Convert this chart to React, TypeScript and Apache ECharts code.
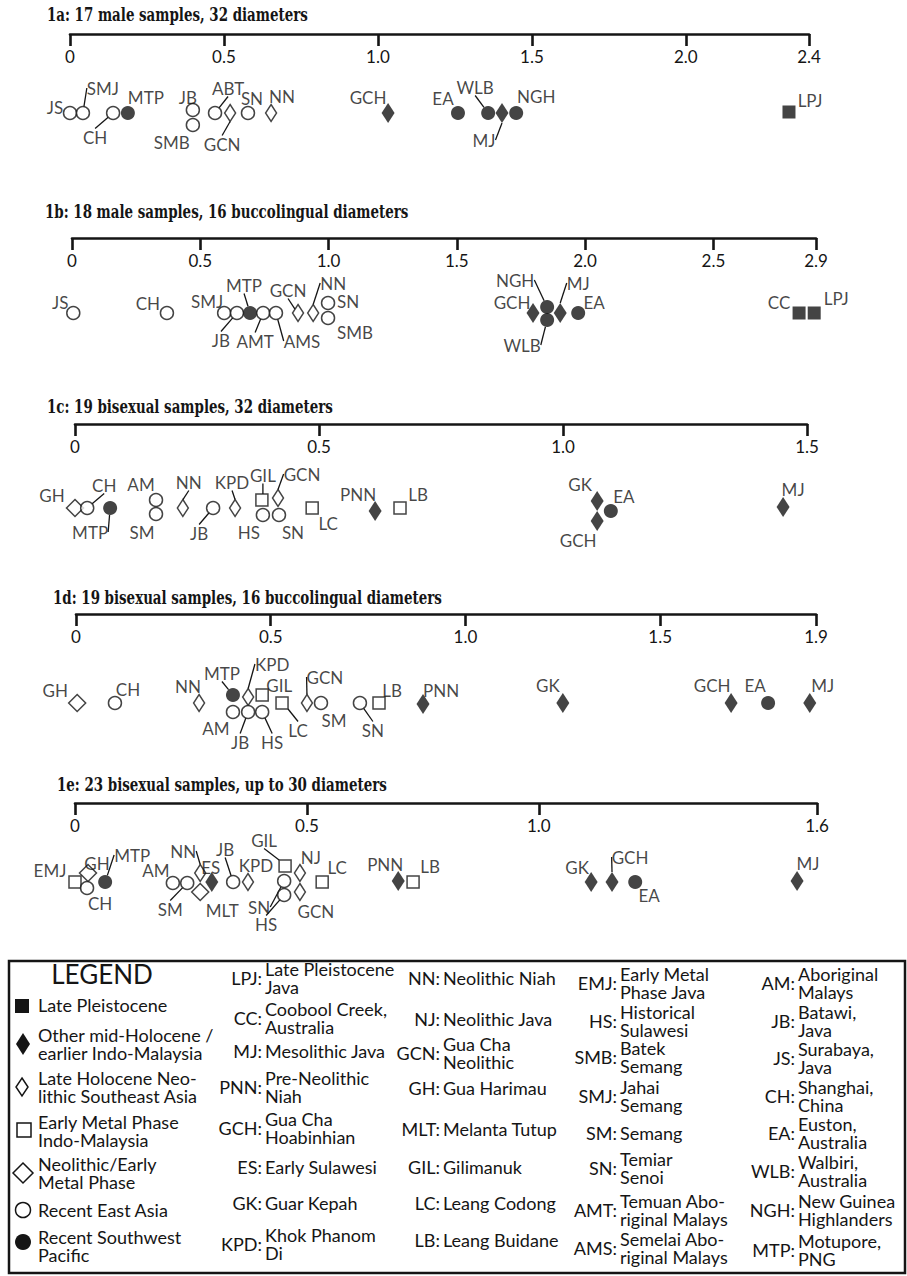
import React, { useEffect, useRef } from 'react';
import * as echarts from 'echarts';

// ---------- Panel titles & axes ----------
const titles = [
  '1a: 17 male samples, 32 diameters',
  '1b: 18 male samples, 16 buccolingual diameters',
  '1c: 19 bisexual samples, 32 diameters',
  '1d: 19 bisexual samples, 16 buccolingual diameters',
  '1e: 23 bisexual samples, up to 30 diameters',
];
const axisMax = [2.4, 2.9, 1.5, 1.9, 1.6];
const tickValues = [
  [0, 0.5, 1.0, 1.5, 2.0, 2.4],
  [0, 0.5, 1.0, 1.5, 2.0, 2.5, 2.9],
  [0, 0.5, 1.0, 1.5],
  [0, 0.5, 1.0, 1.5, 1.9],
  [0, 0.5, 1.0, 1.6],
];

// ---------- Panel 1a ----------
const codes1a = ['JS', 'SMJ', 'CH', 'MTP', 'JB', 'SMB', 'ABT', 'GCN', 'SN', 'NN', 'GCH', 'EA', 'WLB', 'MJ', 'NGH', 'LPJ'];
const values1a = [0.0, 0.042, 0.14, 0.188, 0.399, 0.399, 0.471, 0.52, 0.578, 0.653, 1.033, 1.26, 1.358, 1.403, 1.449, 2.335];
const groups1a = ['REA', 'REA', 'REA', 'RSP', 'REA', 'REA', 'REA', 'LHN', 'REA', 'LHN', 'MH', 'RSP', 'RSP', 'MH', 'RSP', 'LP'];
const stack1a = [0, 0, 0, 0, -3, 12, 0, 0, 0, 0, 0, 0, 0, 0, 0, -1];
const labelAt1a = [[-15, -6], [20, -25], [-18, 24], [18, -16], [-5, -13], [-21, 17], [13, -25], [-8, 31], [4, -15], [11, -17], [-20, -16], [-15, -15], [-13, -26], [-18, 27], [20, -17], [21, -12]];
const leaders1a = ['SMJ', 'CH', 'ABT', 'GCN', 'WLB', 'MJ'];

// ---------- Panel 1b ----------
const codes1b = ['JS', 'CH', 'SMJ', 'JB', 'MTP', 'AMT', 'AMS', 'GCN', 'NN', 'SN', 'SMB', 'GCH', 'NGH', 'WLB', 'MJ', 'EA', 'CC', 'LPJ'];
const values1b = [0.005, 0.37, 0.593, 0.643, 0.694, 0.745, 0.795, 0.881, 0.94, 0.998, 0.998, 1.797, 1.852, 1.852, 1.903, 1.973, 2.834, 2.893];
const groups1b = ['REA', 'REA', 'REA', 'REA', 'RSP', 'REA', 'REA', 'LHN', 'LHN', 'REA', 'REA', 'MH', 'RSP', 'RSP', 'MH', 'RSP', 'LP', 'LP'];
const stack1b = [0, 0, 0, 0, 0, 0, 0, 0, 0, -10, 5, 0, -6, 7, 0, 0, 0, 0];
const labelAt1b = [[-13, -11], [-19, -10], [-17, -12], [-16, 27], [-6, -28], [-8, 28], [26, 28], [-10, -23], [20, -30], [20, -2], [27, 14], [-21, -11], [-32, -27], [-25, 25], [18, -30], [16, -11], [-20, -11], [22, -15]];
const leaders1b = ['JB', 'MTP', 'AMT', 'AMS', 'GCN', 'NN', 'NGH', 'WLB', 'MJ'];

// ---------- Panel 1c ----------
const codes1c = ['GH', 'CH', 'MTP', 'AM', 'SM', 'NN', 'JB', 'KPD', 'GIL', 'HS', 'GCN', 'SN', 'LC', 'PNN', 'LB', 'GK', 'GCH', 'EA', 'MJ'];
const values1c = [0.0, 0.025, 0.072, 0.166, 0.166, 0.221, 0.283, 0.328, 0.383, 0.385, 0.416, 0.418, 0.486, 0.615, 0.666, 1.07, 1.07, 1.098, 1.451];
const groups1c = ['NEM', 'REA', 'RSP', 'REA', 'REA', 'LHN', 'REA', 'LHN', 'EMP', 'REA', 'LHN', 'REA', 'EMP', 'MH', 'EMP', 'MH', 'MH', 'RSP', 'MH'];
const stack1c = [0, 0, 0, -8, 6, 0, 0, 0, -8, 7, -10, 7, 0, 3, 0, -7, 13, 3, -1];
const labelAt1c = [[-23, -13], [17, -23], [-20, 24], [-15, -16], [-14, 18], [6, -26], [-14, 25], [-3, -26], [1, -25], [-14, 17], [24, -24], [14, 17], [16, 15], [-17, -17], [18, -14], [-17, -17], [-19, 19], [13, -15], [10, -18]];
const leaders1c = ['CH', 'MTP', 'NN', 'JB', 'KPD', 'GIL', 'GCN'];

// ---------- Panel 1d ----------
const codes1d = ['GH', 'CH', 'NN', 'MTP', 'KPD', 'GIL', 'AM', 'JB', 'HS', 'LC', 'GCN', 'SM', 'SN', 'LB', 'PNN', 'GK', 'GCH', 'EA', 'MJ'];
const values1d = [0.003, 0.1, 0.316, 0.403, 0.442, 0.478, 0.403, 0.442, 0.478, 0.529, 0.593, 0.629, 0.729, 0.778, 0.891, 1.25, 1.682, 1.777, 1.884];
const groups1d = ['NEM', 'REA', 'LHN', 'RSP', 'LHN', 'EMP', 'REA', 'REA', 'REA', 'EMP', 'LHN', 'REA', 'REA', 'EMP', 'MH', 'MH', 'MH', 'RSP', 'MH'];
const stack1d = [0, 0, 0, -8, -6, -8, 9, 9, 9, 0, 0, 0, 0, 0, 1, 0, 0, 0, 0];
const labelAt1d = [[-22, -13], [13, -14], [-11, -17], [-11, -22], [24, -33], [17, -10], [-17, 16], [-8, 30], [10, 30], [16, 27], [18, -26], [13, 17], [13, 27], [13, -13], [18, -14], [-15, -18], [-19, -18], [-13, -18], [13, -18]];
const leaders1d = ['MTP', 'KPD', 'JB', 'HS', 'LC', 'GCN', 'SN'];

// ---------- Panel 1e ----------
const codes1e = ['EMJ', 'GH', 'CH', 'MTP', 'AM', 'SM', 'NN', 'MLT', 'ES', 'JB', 'KPD', 'GIL', 'SN', 'HS', 'NJ', 'GCN', 'LC', 'PNN', 'LB', 'GK', 'GCH', 'EA', 'MJ'];
const values1e = [0.0, 0.028, 0.026, 0.065, 0.211, 0.242, 0.27, 0.27, 0.295, 0.341, 0.373, 0.453, 0.451, 0.451, 0.485, 0.485, 0.533, 0.697, 0.729, 1.113, 1.158, 1.208, 1.557];
const groups1e = ['EMP', 'NEM', 'REA', 'RSP', 'REA', 'REA', 'LHN', 'NEM', 'MH', 'REA', 'LHN', 'EMP', 'REA', 'REA', 'LHN', 'LHN', 'EMP', 'MH', 'EMP', 'MH', 'MH', 'RSP', 'MH'];
const stack1e = [0, -9, 6, 0, 1, 1, -9, 10, 0, 0, 0, -16, -1, 13, -9, 10, 0, -1, 0, 0, 0, 0, -1];
const labelAt1e = [[-25, -12], [9, -10], [13, 15], [27, -27], [-17, -13], [-17, 26], [-17, -22], [22, 18], [-1, -15], [-8, -33], [8, -17], [-21, -26], [-25, 26], [-18, 29], [11, -16], [16, 19], [15, -15], [-13, -17], [17, -16], [-14, -15], [18, -25], [14, 13], [11, -18]];
const leaders1e = ['MTP', 'SM', 'NN', 'JB', 'GIL', 'SN', 'HS', 'GCH'];

// ---------- Legend ----------
const legendKeys = ['LP', 'MH', 'LHN', 'EMP', 'NEM', 'REA', 'RSP'];
const legendKeyNames = [
  'Late Pleistocene',
  'Other mid-Holocene /\nearlier Indo-Malaysia',
  'Late Holocene Neo-\nlithic Southeast Asia',
  'Early Metal Phase\nIndo-Malaysia',
  'Neolithic/Early\nMetal Phase',
  'Recent East Asia',
  'Recent Southwest\nPacific',
];
const abbrCodes = [
  ['LPJ', 'CC', 'MJ', 'PNN', 'GCH', 'ES', 'GK', 'KPD'],
  ['NN', 'NJ', 'GCN', 'GH', 'MLT', 'GIL', 'LC', 'LB'],
  ['EMJ', 'HS', 'SMB', 'SMJ', 'SM', 'SN', 'AMT', 'AMS'],
  ['AM', 'JB', 'JS', 'CH', 'EA', 'WLB', 'NGH', 'MTP'],
];
const abbrNames = [
  ['Late Pleistocene\nJava', 'Coobool Creek,\nAustralia', 'Mesolithic Java', 'Pre-Neolithic\nNiah', 'Gua Cha\nHoabinhian', 'Early Sulawesi', 'Guar Kepah', 'Khok Phanom\nDi'],
  ['Neolithic Niah', 'Neolithic Java', 'Gua Cha\nNeolithic', 'Gua Harimau', 'Melanta Tutup', 'Gilimanuk', 'Leang Codong', 'Leang Buidane'],
  ['Early Metal\nPhase Java', 'Historical\nSulawesi', 'Batek\nSemang', 'Jahai\nSemang', 'Semang', 'Temiar\nSenoi', 'Temuan Abo-\nriginal Malays', 'Semelai Abo-\nriginal Malays'],
  ['Aboriginal\nMalays', 'Batawi,\nJava', 'Surabaya,\nJava', 'Shanghai,\nChina', 'Euston,\nAustralia', 'Walbiri,\nAustralia', 'New Guinea\nHighlanders', 'Motupore,\nPNG'],
];

// ---------- Layout (not data) ----------
const INK = '#151515';
const FONT = 'Lato';
const LEG_FONT = '18px Lato';
const panelLayout = [
  { left: 70, axisY: 34, base: 113, title: [47, 15] },
  { left: 72, axisY: 238, base: 313, title: [45, 212] },
  { left: 75, axisY: 424, base: 508, title: [47, 407] },
  { left: 76, axisY: 614, base: 703, title: [53, 598] },
  { left: 75, axisY: 803, base: 882, title: [57, 785] },
];
const panelRight = [809, 816, 807, 816, 817];
const titleScale = 0.745;

const GROUP_STYLE: Record<string, { symbol: string; size: number | number[]; filled: boolean }> = {
  LP: { symbol: 'rect', size: 13, filled: true },
  MH: { symbol: 'diamond', size: [13, 20], filled: true },
  LHN: { symbol: 'diamond', size: [11, 17], filled: false },
  EMP: { symbol: 'rect', size: 12, filled: false },
  NEM: { symbol: 'diamond', size: [17, 17], filled: false },
  REA: { symbol: 'circle', size: 13, filled: false },
  RSP: { symbol: 'circle', size: 14, filled: true },
};

const panels = [
  { codes: codes1a, values: values1a, groups: groups1a, stack: stack1a, labelAt: labelAt1a, leaders: leaders1a },
  { codes: codes1b, values: values1b, groups: groups1b, stack: stack1b, labelAt: labelAt1b, leaders: leaders1b },
  { codes: codes1c, values: values1c, groups: groups1c, stack: stack1c, labelAt: labelAt1c, leaders: leaders1c },
  { codes: codes1d, values: values1d, groups: groups1d, stack: stack1d, labelAt: labelAt1d, leaders: leaders1d },
  { codes: codes1e, values: values1e, groups: groups1e, stack: stack1e, labelAt: labelAt1e, leaders: leaders1e },
];

function txt(x: number, y: number, text: string, align: string, font: string, extra: any = {}) {
  return {
    type: 'text',
    x,
    y,
    silent: true,
    ...extra,
    style: {
      text,
      font,
      fill: INK,
      textAlign: align,
      align,
      textVerticalAlign: 'middle',
      verticalAlign: 'middle',
      lineHeight: 18,
    },
  };
}

function buildOption() {
  const grid: any[] = [];
  const xAxis: any[] = [];
  const yAxis: any[] = [];
  const series: any[] = [];
  const graphic: any[] = [];

  panels.forEach((p, i) => {
    const L = panelLayout[i];
    const below = 50;
    grid.push({
      left: L.left,
      top: L.axisY,
      width: panelRight[i] - L.left,
      height: L.base - L.axisY + below,
      containLabel: false,
    });
    xAxis.push({
      gridIndex: i,
      type: 'value',
      position: 'top',
      min: 0,
      max: axisMax[i],
      axisLine: { show: true, onZero: false, lineStyle: { color: INK, width: 2.6 } },
      axisTick: { show: true, inside: true, length: 12, lineStyle: { color: INK, width: 2.6 }, customValues: tickValues[i] },
      axisLabel: {
        show: true,
        inside: true,
        margin: 14,
        customValues: tickValues[i],
        showMinLabel: true,
        showMaxLabel: true,
        color: INK,
        fontFamily: FONT,
        fontSize: 17,
        formatter: (v: number) => (v === 0 ? '0' : v.toFixed(1)),
      },
      splitLine: { show: false },
    });
    yAxis.push({
      gridIndex: i,
      type: 'value',
      inverse: true,
      min: -(L.base - L.axisY),
      max: below,
      show: false,
      splitLine: { show: false },
    });
    const data = p.codes.map((c, j) => {
      const st = GROUP_STYLE[p.groups[j]];
      return {
        name: c,
        value: [p.values[j], p.stack[j]],
        symbol: st.symbol,
        symbolSize: st.size,
        itemStyle: {
          color: st.filled ? INK : '#ffffff',
          borderColor: INK,
          borderWidth: st.filled ? 0 : 1.5,
        },
        labelLine: { show: p.leaders.includes(c), lineStyle: { color: INK, width: 1.3 } },
      };
    });
    series.push({
      type: 'scatter',
      xAxisIndex: i,
      yAxisIndex: i,
      clip: false,
      silent: true,
      data,
      label: {
        show: true,
        position: 'inside',
        formatter: '{b}',
        color: INK,
        fontFamily: FONT,
        fontSize: 17,
      },
      labelLine: { show: false },
      labelLayout: (params: any) => ({
        dx: p.labelAt[params.dataIndex][0],
        dy: p.labelAt[params.dataIndex][1],
      }),
      emphasis: { disabled: true },
    });
    graphic.push(
      txt(L.title[0], L.title[1], titles[i], 'left', 'bold 18px "DejaVu Serif"', { scaleX: titleScale })
    );
  });

  // Legend box
  graphic.push({
    type: 'rect',
    silent: true,
    shape: { x: 9, y: 961, width: 896, height: 312 },
    style: { fill: 'none', stroke: INK, lineWidth: 2.5 },
  });
  graphic.push(txt(102, 974, 'LEGEND', 'center', '26px Lato'));

  const keyRows = [1005, 1044, 1087, 1131, 1173, 1210, 1246];
  const keyShapes: any[] = [
    { type: 'rect', shape: { x: 15, y: 999, width: 14, height: 14 }, style: { fill: INK } },
    { type: 'polygon', shape: { points: [[23, 1033], [30, 1044], [23, 1055], [16, 1044]] }, style: { fill: INK } },
    { type: 'polygon', shape: { points: [[22, 1078], [28, 1087], [22, 1096], [16, 1087]] }, style: { fill: '#fff', stroke: INK, lineWidth: 1.5 } },
    { type: 'rect', shape: { x: 17, y: 1123, width: 14, height: 14 }, style: { fill: '#fff', stroke: INK, lineWidth: 1.5 } },
    { type: 'polygon', shape: { points: [[23, 1163], [33, 1173], [23, 1183], [13, 1173]] }, style: { fill: '#fff', stroke: INK, lineWidth: 1.5 } },
    { type: 'circle', shape: { cx: 23, cy: 1210, r: 7.5 }, style: { fill: '#fff', stroke: INK, lineWidth: 1.5 } },
    { type: 'circle', shape: { cx: 23, cy: 1242, r: 8 }, style: { fill: INK } },
  ];
  legendKeys.forEach((k, i) => {
    graphic.push({ ...keyShapes[i], silent: true });
    graphic.push(txt(38, keyRows[i], legendKeyNames[i], 'left', LEG_FONT));
  });

  const colonX = [262, 440, 617, 795];
  const colRows = [
    [978, 1018, 1051, 1087, 1128, 1167, 1203, 1244],
    [978, 1019, 1053, 1088, 1129, 1167, 1203, 1240],
    [983, 1021, 1057, 1096, 1133, 1168, 1210, 1248],
    [983, 1021, 1058, 1096, 1133, 1171, 1210, 1250],
  ];
  abbrCodes.forEach((col, ci) => {
    col.forEach((code, ri) => {
      const y = colRows[ci][ri];
      graphic.push(txt(colonX[ci], y, code + ':', 'right', LEG_FONT));
      graphic.push(txt(colonX[ci] + 3, y, abbrNames[ci][ri], 'left', LEG_FONT));
    });
  });

  return {
    animation: false,
    backgroundColor: '#ffffff',
    grid,
    xAxis,
    yAxis,
    series,
    graphic,
  };
}

export default function App() {
  const ref = useRef<HTMLDivElement>(null);
  useEffect(() => {
    if (!ref.current) return;
    const chart = echarts.init(ref.current, null, { renderer: 'svg' });
    chart.setOption(buildOption() as any);
    return () => chart.dispose();
  }, []);
  return (
    <div
      ref={ref}
      style={{ position: 'absolute', left: 0, top: 0, width: 907, height: 1276, background: '#fff' }}
    />
  );
}
